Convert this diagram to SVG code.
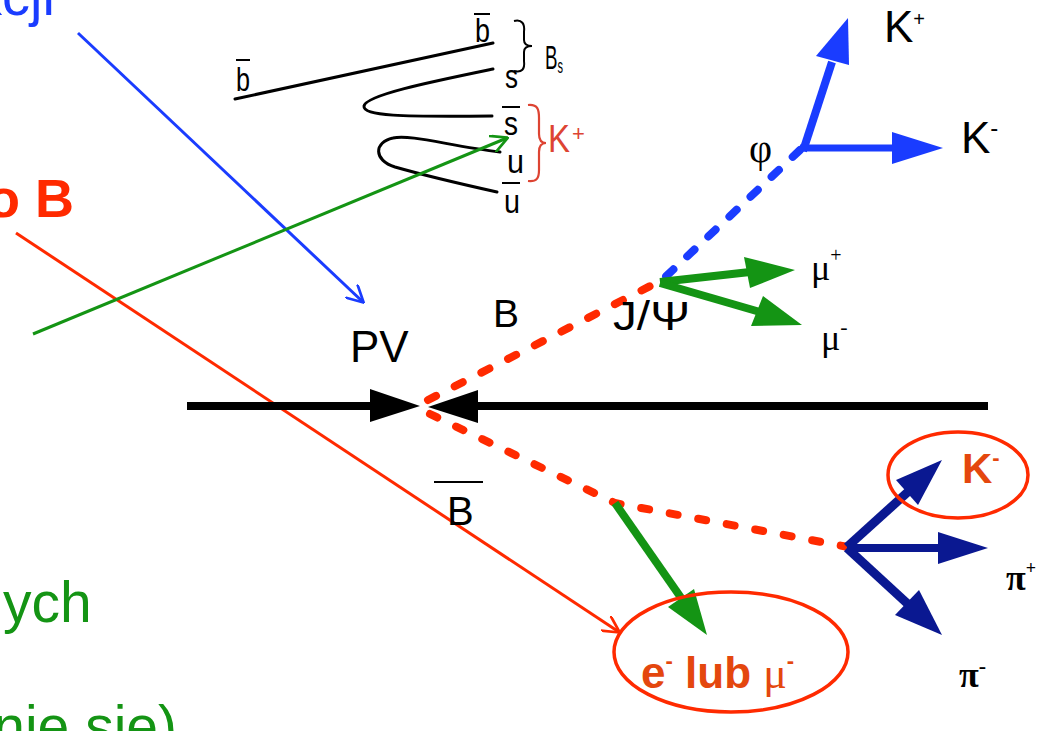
<svg xmlns="http://www.w3.org/2000/svg" width="1045" height="731" viewBox="0 0 1045 731">
<style>
.sans{font-family:"Liberation Sans",Arial,sans-serif}
.serif{font-family:"Liberation Serif","Times New Roman",serif}
.blk{fill:#000}
.q{font-family:"Liberation Sans",Arial,sans-serif;font-size:34px;fill:#000}
.ql{stroke:#000;stroke-width:3;fill:none;stroke-linecap:round}
.ov{stroke:#000;stroke-width:2}
.thin{fill:none;stroke-width:3}
.dash{fill:none;stroke-width:8;stroke-linecap:round}
.thick{fill:none;stroke-width:8}
.org{fill:#e4470e;font-weight:bold}
</style>
<defs>
<marker id="vb" viewBox="0 0 10 10" refX="9" refY="5" markerWidth="6" markerHeight="6" orient="auto"><path d="M0,0 L9.5,5 L0,10" fill="none" stroke="#1a3cff" stroke-width="1.5"/></marker>
<marker id="vr" viewBox="0 0 10 10" refX="9" refY="5" markerWidth="6" markerHeight="6" orient="auto"><path d="M0,0 L9.5,5 L0,10" fill="none" stroke="#ff2a00" stroke-width="1.5"/></marker>
<marker id="vg" viewBox="0 0 10 10" refX="9" refY="5" markerWidth="6" markerHeight="6" orient="auto"><path d="M0,0 L9.5,5 L0,10" fill="none" stroke="#149414" stroke-width="1.5"/></marker>
</defs>
<rect width="1045" height="731" fill="#fff"/>

<g id="side-texts">
<text class="sans" x="55" y="15" font-size="56" fill="#1a3cff" text-anchor="end">kcji</text>
<text class="sans" x="74" y="217" font-size="54" font-weight="bold" fill="#ff2a00" text-anchor="end">o B</text>
<text class="sans" x="3" y="622" font-size="57" fill="#149414">ych</text>
<text class="sans" x="177" y="746" font-size="57" fill="#149414" text-anchor="end">nie się)</text>
</g>

<g id="quark-diagram">
<path class="ql" d="M235,99 L493,43"/>
<path class="ql" d="M493,69 C430,82 366,95 364,106 C363,116 400,117 492,116"/>
<path class="ql" d="M500,152 C450,146 410,134 393,138 C374,142 373,160 395,167 C430,177 470,186 497,192"/>
<line class="ov" x1="236" y1="60" x2="250" y2="60"/>
<text class="q" x="236" y="91" textLength="14" lengthAdjust="spacingAndGlyphs">b</text>
<line class="ov" x1="474" y1="14" x2="490" y2="14"/>
<text class="q" x="475" y="42" textLength="15" lengthAdjust="spacingAndGlyphs">b</text>
<text class="q" x="505" y="88" font-size="38" textLength="13" lengthAdjust="spacingAndGlyphs">s</text>
<line class="ov" x1="502" y1="107" x2="520" y2="107"/>
<text class="q" x="504" y="135" font-size="38" textLength="14" lengthAdjust="spacingAndGlyphs">s</text>
<text class="q" x="507" y="173" font-size="38" textLength="17" lengthAdjust="spacingAndGlyphs">u</text>
<line class="ov" x1="502" y1="183" x2="520" y2="183"/>
<text class="q" x="504" y="213" font-size="38" textLength="16" lengthAdjust="spacingAndGlyphs">u</text>
<path d="M514,21 C522,19 525,24 524,32 L524,40 C524,44 527,46 532,46 C527,46 524,48 524,52 L524,61 C525,69 522,73 514,71" fill="none" stroke="#000" stroke-width="2"/>
<text class="q" x="545" y="69" font-size="32" textLength="18" lengthAdjust="spacingAndGlyphs">B<tspan font-size="20" dy="4">s</tspan></text>
<path d="M528,105 C538,104 539,110 539,118 L539,134 C539,139 541,143 546,143 C541,143 539,147 539,152 L539,170 C539,178 537,182 528,181" fill="none" stroke="#dd4433" stroke-width="2.2"/>
<text x="548" y="152" font-size="38" fill="#dd4433" class="sans" textLength="22" lengthAdjust="spacingAndGlyphs">K</text>
<text x="572" y="141" font-size="22" fill="#dd4433" class="sans">+</text>
</g>

<g id="connectors">
<line class="thin" x1="78" y1="33" x2="363" y2="302" stroke="#1a3cff" marker-end="url(#vb)"/>
<line class="thin" x1="16" y1="233" x2="619" y2="632" stroke="#ff2a00" marker-end="url(#vr)"/>
<line class="thin" x1="33" y1="334" x2="507" y2="138" stroke="#149414" marker-end="url(#vg)"/>

<line x1="187" y1="406" x2="372" y2="406" stroke="#000" stroke-width="8"/>
<polygon points="370,389 420,406 370,422" fill="#000"/>
<line x1="476" y1="406" x2="988" y2="406" stroke="#000" stroke-width="8"/>
<polygon points="478,390 428,407 478,423" fill="#000"/>

<line class="dash" x1="428" y1="400" x2="658" y2="282" stroke="#ff2a00" stroke-dasharray="9 21"/>
<path class="dash" d="M430,414 L615,503 L848,547" stroke="#ff2a00" stroke-dasharray="8 21"/>
<line class="dash" x1="800" y1="150" x2="660" y2="282" stroke="#1a3cff" stroke-dasharray="10 19" stroke-width="8"/>

<line class="thick" x1="660" y1="282" x2="750" y2="272" stroke="#149414"/>
<polygon points="744,257 795,270 750,288" fill="#149414"/>
<line class="thick" x1="660" y1="283" x2="760" y2="312" stroke="#149414"/>
<polygon points="763,296 802,325 751,326" fill="#149414"/>
<line class="thick" x1="615" y1="503" x2="684" y2="602" stroke="#149414"/>
<polygon points="694,589 707,635 668,607" fill="#149414"/>

<line x1="803" y1="151" x2="832" y2="62" stroke="#1a3cff" stroke-width="8"/>
<polygon points="848,18 816,56 849,65" fill="#1a3cff"/>
<line x1="800" y1="148" x2="895" y2="148" stroke="#1a3cff" stroke-width="7"/>
<polygon points="892,132 943,148 892,164" fill="#1a3cff"/>

<line x1="847" y1="547" x2="910" y2="490" stroke="#0a1891" stroke-width="9"/>
<polygon points="942,460 918,505 896,480" fill="#0a1891"/>
<line x1="847" y1="548" x2="940" y2="548" stroke="#0a1891" stroke-width="8"/>
<polygon points="938,532 988,548 938,564" fill="#0a1891"/>
<line x1="847" y1="548" x2="910" y2="606" stroke="#0a1891" stroke-width="9"/>
<polygon points="942,635 919,590 895,615" fill="#0a1891"/>
</g>

<g id="pv">
<text class="sans blk" x="350" y="362" font-size="44">PV</text>
</g>
<g id="b-meson">
<text class="sans blk" x="493" y="327" font-size="39">B</text>
</g>
<g id="bbar-meson">
<line x1="434" y1="482" x2="483" y2="482" stroke="#000" stroke-width="2"/>
<text class="sans blk" x="447" y="525" font-size="40">B</text>
</g>
<g id="jpsi">
<text class="sans blk" x="613" y="330" font-size="40" textLength="77" lengthAdjust="spacingAndGlyphs">J/Ψ</text>
</g>
<g id="mu-plus">
<text class="serif blk" x="811" y="280" font-size="36">μ<tspan font-size="20" dy="-18">+</tspan></text>
</g>
<g id="mu-minus">
<text class="serif blk" x="821" y="350" font-size="36">μ<tspan font-size="22" dy="-16">-</tspan></text>
</g>
<g id="phi">
<text class="serif blk" x="749" y="162" font-size="40">φ</text>
</g>
<g id="k-plus">
<text class="sans blk" x="884" y="42" font-size="44">K<tspan font-size="20" dy="-16">+</tspan></text>
</g>
<g id="k-minus">
<text class="sans blk" x="961" y="153" font-size="44">K<tspan font-size="24" dy="-17">-</tspan></text>
</g>
<g id="k-minus-tag">
<ellipse cx="958" cy="475" rx="70" ry="43" fill="none" stroke="#ff2a00" stroke-width="3.5"/>
<text class="sans org" x="962" y="483" font-size="42">K<tspan font-size="22" dy="-18">-</tspan></text>
</g>
<g id="pi-plus">
<text class="serif blk" x="1006" y="590" font-size="36" font-weight="bold">π<tspan font-size="18" dy="-16">+</tspan></text>
</g>
<g id="pi-minus">
<text class="serif blk" x="959" y="687" font-size="36" font-weight="bold">π<tspan font-size="22" dy="-14">-</tspan></text>
</g>
<g id="lepton">
<ellipse cx="731" cy="652" rx="117" ry="60" fill="none" stroke="#ff2a00" stroke-width="3.5"/>
<text class="sans org" x="641" y="688" font-size="44">e<tspan font-size="22" dy="-20">-</tspan><tspan dy="20"> lub </tspan><tspan class="serif" font-weight="normal">μ</tspan><tspan font-size="22" dy="-20">-</tspan></text>
</g>
</svg>
